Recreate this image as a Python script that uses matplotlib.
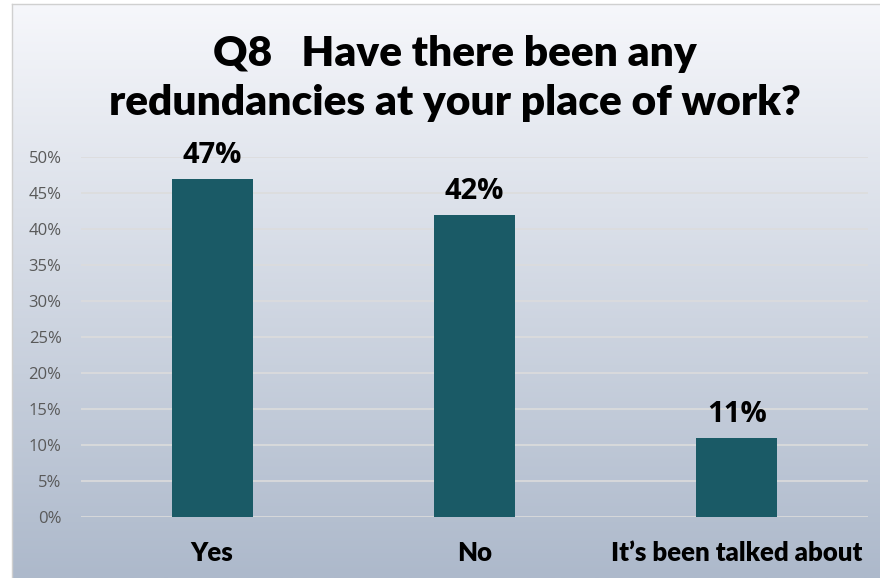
import numpy as np
import matplotlib
matplotlib.use("Agg")
import matplotlib.pyplot as plt
from matplotlib.colors import LinearSegmentedColormap

categories = ["Yes", "No", "It\u2019s been talked about"]
values = [47, 42, 11]
yticks = [0, 5, 10, 15, 20, 25, 30, 35, 40, 45, 50]
title_lines = ["Q8   Have there been any", "redundancies at your place of work?"]

W, H = 880, 578
fig = plt.figure(figsize=(W / 100, H / 100), dpi=100)
fig.patch.set_facecolor("white")

# gradient panel behind the chart
bg = fig.add_axes([12 / W, 0, 1 - 12 / W, 1 - 4 / H])
cmap = LinearSegmentedColormap.from_list("bg", ["#f6f7fb", "#adb9cb"])
grad = np.linspace(0, 1, 256).reshape(-1, 1)
bg.imshow(grad, aspect="auto", cmap=cmap, extent=[0, 1, 0, 1], origin="upper")
bg.set_axis_off()
fig.add_artist(plt.Line2D([12 / W, 12 / W], [0, 1 - 4 / H], color="#d0d0d0", lw=1))
fig.add_artist(plt.Line2D([12 / W, 1], [1 - 4 / H, 1 - 4 / H], color="#d0d0d0", lw=1))

ax = fig.add_axes([81 / W, (H - 517) / H, (868 - 81) / W, (517 - 157) / H])
ax.patch.set_alpha(0)
x = np.arange(len(categories))
ax.bar(x, values, width=0.31, color="#1a5a66", zorder=3)
ax.set_xlim(-0.5, 2.5)
ax.set_ylim(0, 50)
ax.set_yticks(yticks)
ax.set_yticklabels([f"{t}%" for t in yticks], color="#595959", fontsize=12,
                   family=["Open Sans", "DejaVu Sans"])
ax.set_xticks(x)
ax.set_xticklabels(categories, fontsize=18.5, fontweight="heavy",
                   family=["Lato", "DejaVu Sans"])
ax.tick_params(axis="both", length=0)
ax.tick_params(axis="x", pad=17)
ax.tick_params(axis="y", pad=14)
ax.grid(axis="y", color="#dcdcdc", lw=1.2, zorder=0)
for s in ax.spines.values():
    s.set_visible(False)

for xi, v in zip(x, values):
    ax.text(xi, v + 1.2, f"{v}%", ha="center", va="bottom", fontsize=21,
            fontweight="bold", family=["Open Sans", "DejaVu Sans"])

# title, two lines, sized so the longer line spans about 690 px
renderer = fig.canvas.get_renderer()
size = 30
probe = fig.text(0, 0, title_lines[1], fontsize=size, fontweight="heavy",
                 family=["Lato", "DejaVu Sans"])
w = probe.get_window_extent(renderer).width
probe.remove()
size = size * 690 / w
cx = 455 / W
fig.text(cx, 1 - 54 / H, title_lines[0], ha="center", va="center", fontsize=size,
         fontweight="heavy", family=["Lato", "DejaVu Sans"])
fig.text(cx, 1 - 103 / H, title_lines[1], ha="center", va="center", fontsize=size,
         fontweight="heavy", family=["Lato", "DejaVu Sans"])

fig.savefig("out.png", dpi=100)
